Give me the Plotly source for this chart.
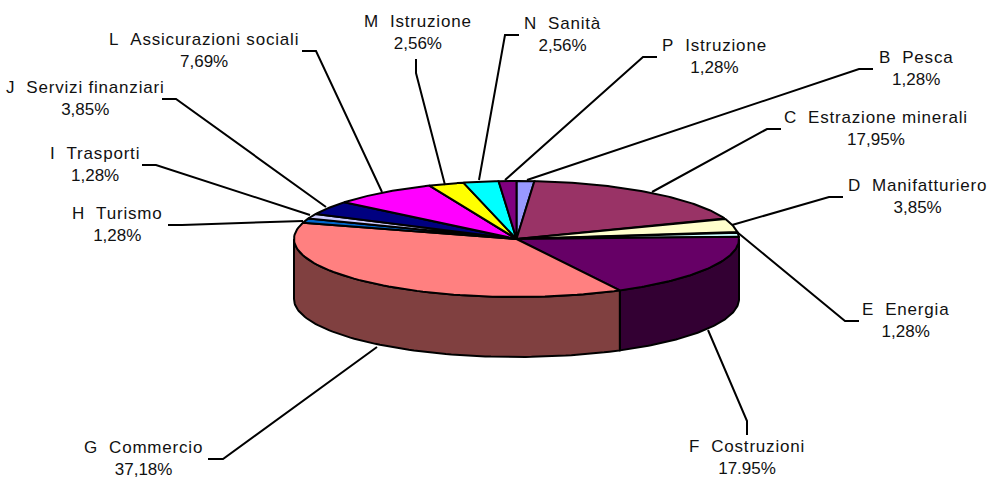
import numpy as np
import plotly.graph_objects as go

codes = ["B", "C", "D", "E", "F", "G", "H", "I", "J", "L", "M", "N", "P"]
names = ["Pesca", "Estrazione minerali", "Manifatturiero", "Energia", "Costruzioni",
         "Commercio", "Turismo", "Trasporti", "Servizi finanziari",
         "Assicurazioni sociali", "Istruzione", "Sanità", "Istruzione"]
values = [1.28, 17.95, 3.85, 1.28, 17.95, 37.18, 1.28, 1.28, 3.85, 7.69, 2.56, 2.56, 1.28]
value_labels = ["1,28%", "17,95%", "3,85%", "1,28%", "17.95%", "37,18%", "1,28%", "1,28%",
                "3,85%", "7,69%", "2,56%", "2,56%", "1,28%"]
top_colors = ["#9999FF", "#993366", "#FFFFCC", "#CCFFFF", "#660066", "#FF8080", "#0066CC",
              "#CCCCFF", "#000080", "#FF00FF", "#FFFF00", "#00FFFF", "#800080"]
side_colors = ["#4D4D80", "#4D1A33", "#808066", "#668080", "#330033", "#804040", "#003366",
               "#666680", "#000040", "#800080", "#808000", "#008080", "#400040"]

# Layout of the pie on the page
CX, CY, RX, RY, DEPTH = 516.5, 239.0, 222.5, 58.0, 60.0
W, H = 990, 479

# Label centres and leader-line routes
label_x = [916, 876, 917, 905, 747, 143, 117, 95, 85, 204, 418, 562, 714]
label_y = [68, 128, 196, 320, 457, 458, 224, 164, 98, 50, 32, 34, 56]
leaders = [
    [(873, 69), (859, 69), (527, 180)],
    [(781, 129), (767, 129), (652, 192)],
    [(843, 197), (829, 197), (732, 225)],
    [(859, 321), (845, 321), (737, 232)],
    [(747, 435), (747, 421), (708, 330)],
    [(208, 459), (223, 459), (377, 347)],
    [(168, 225), (182, 225), (303, 221)],
    [(142, 165), (156, 165), (310, 215)],
    [(162, 99), (176, 99), (326, 207)],
    [(302, 51), (316, 51), (382, 192)],
    [(416, 59), (416, 73), (445, 185)],
    [(519, 35), (505, 35), (479, 180)],
    [(657, 57), (643, 57), (505, 180)],
]

fracs = np.array(values) / sum(values) * 2 * np.pi
ends = np.cumsum(fracs)
starts = ends - fracs


def ex(t):
    return CX + RX * np.sin(t)


def ey(t):
    return CY - RY * np.cos(t)


fig = go.Figure()
LINE = dict(color="black", width=2)

# Visible outer wall: the part of each slice between the rightmost and leftmost rim points
for s, e, c in zip(starts, ends, side_colors):
    a, b = max(s, np.pi / 2), min(e, 3 * np.pi / 2)
    if b <= a:
        continue
    t = np.linspace(a, b, 80)
    xs = np.concatenate([ex(t), ex(t[::-1]), ex(t[:1])])
    ys = np.concatenate([ey(t), ey(t[::-1]) + DEPTH, ey(t[:1])])
    fig.add_trace(go.Scatter(x=xs, y=ys, mode="lines", fill="toself", fillcolor=c,
                             line=LINE, hoverinfo="skip", showlegend=False))

# Top face
for s, e, c in zip(starts, ends, top_colors):
    t = np.linspace(s, e, 80)
    xs = np.concatenate([[CX], ex(t), [CX]])
    ys = np.concatenate([[CY], ey(t), [CY]])
    fig.add_trace(go.Scatter(x=xs, y=ys, mode="lines", fill="toself", fillcolor=c,
                             line=LINE, hoverinfo="skip", showlegend=False))

# Leader lines
for pts in leaders:
    fig.add_trace(go.Scatter(x=[p[0] for p in pts], y=[p[1] for p in pts], mode="lines",
                             line=dict(color="black", width=2),
                             hoverinfo="skip", showlegend=False))

# Labels
for code, name, vl, x, y in zip(codes, names, value_labels, label_x, label_y):
    fig.add_annotation(
        x=x, y=y, xref="x", yref="y", showarrow=False, align="center",
        text=f'<span style="letter-spacing:0.8px">{code}\u00a0\u00a0{name}</span><br>{vl}',
        font=dict(family="Liberation Sans, Arial, sans-serif", size=17, color="#111111"))

fig.update_layout(
    width=W, height=H, margin=dict(l=0, r=0, t=0, b=0),
    paper_bgcolor="white", plot_bgcolor="white", showlegend=False,
    xaxis=dict(range=[0, W], visible=False, fixedrange=True),
    yaxis=dict(range=[H, 0], visible=False, fixedrange=True),
)

fig.write_html("out.html", config={"displayModeBar": False},
               post_script="document.body.style.margin='0';document.body.style.overflow='hidden';")
